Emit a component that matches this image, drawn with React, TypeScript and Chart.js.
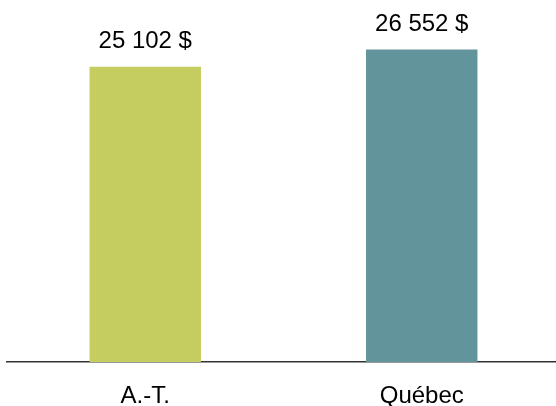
import React, { useEffect, useRef } from "react";
import { Chart, registerables } from "chart.js";

Chart.register(...registerables);

const categories = ["A.-T.", "Québec"];
const values = [25102, 26552];
const valueLabels = ["25 102 $", "26 552 $"];
const barColors = ["#C6CD60", "#62959B"];

const valueLabelPlugin = {
  id: "valueLabels",
  afterDatasetsDraw(chart: any) {
    const ctx = chart.ctx;
    const meta = chart.getDatasetMeta(0);
    ctx.save();
    ctx.font = "24px 'Liberation Sans', Arial, sans-serif";
    ctx.fillStyle = "#000000";
    ctx.textAlign = "center";
    ctx.textBaseline = "alphabetic";
    meta.data.forEach((bar: any, i: number) => {
      ctx.fillText(valueLabels[i], bar.x, bar.y - 19);
    });
    ctx.restore();
  },
};

export default function App() {
  const ref = useRef<HTMLCanvasElement | null>(null);
  useEffect(() => {
    document.body.style.margin = "0";
    const chart = new Chart(ref.current as HTMLCanvasElement, {
      type: "bar",
      data: {
        labels: categories,
        datasets: [
          {
            data: values,
            backgroundColor: barColors,
            barPercentage: 0.403,
            categoryPercentage: 1,
          },
        ],
      },
      options: {
        animation: false,
        responsive: false,
        maintainAspectRatio: false,
        layout: { padding: { left: 7, right: 0, top: 9, bottom: 0 } },
        plugins: { legend: { display: false }, tooltip: { enabled: false } },
        scales: {
          x: {
            grid: { display: false, drawTicks: false },
            border: { display: true, color: "#333333", width: 1.5 },
            ticks: {
              color: "#000000",
              padding: 20,
              font: { family: "'Liberation Sans', Arial, sans-serif", size: 24 },
            },
            afterFit: (scale: any) => {
              scale.height = 44;
            },
          },
          y: {
            display: false,
            min: 0,
            max: 30000,
          },
        },
      },
      plugins: [valueLabelPlugin],
    });
    return () => chart.destroy();
  }, []);
  return (
    <div style={{ width: 556, height: 406, overflow: "hidden" }}>
      <canvas ref={ref} width={560} height={406} style={{ display: "block" }} />
    </div>
  );
}
